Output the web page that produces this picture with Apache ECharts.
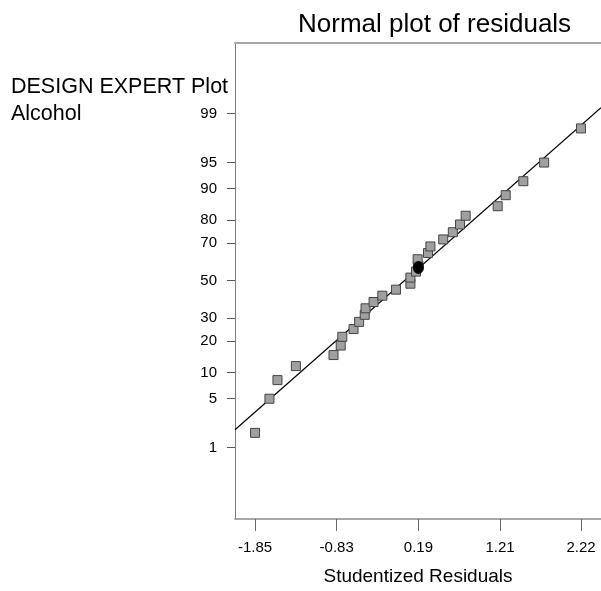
<!DOCTYPE html>
<html>
<head>
<meta charset="utf-8">
<script src="https://cdn.jsdelivr.net/npm/echarts@6/dist/echarts.min.js"></script>
<style>
html,body{margin:0;padding:0;background:#fff;}
#chart{width:601px;height:591px;}
</style>
</head>
<body>
<div id="chart"></div>
<script>
// ---- data ----
const residuals = [-1.85, -1.67, -1.57, -1.34, -0.87, -0.78, -0.76, -0.62, -0.55, -0.48,
                   -0.47, -0.37, -0.26, -0.09, 0.09, 0.09, 0.16, 0.19, 0.18, 0.31,
                   0.34, 0.50, 0.62, 0.71, 0.78, 1.18, 1.28, 1.50, 1.76, 2.22];
const probability = [1.7, 5, 8.3, 11.7, 15, 18.3, 21.7, 25, 28.3, 31.7,
                     35, 38.3, 41.7, 45, 48.3, 51.7, 55, 58.3, 61.7, 65,
                     68.3, 71.7, 75, 78.3, 81.7, 85, 88.3, 91.7, 95, 98.3];
const highlightedResidual = [0.19];
const highlightedProbability = [57.3];
const lineResiduals = [-2.10, 2.47];
const lineProbability = [1.89, 99.2];
const xTickLabels = [-1.85, -0.83, 0.19, 1.21, 2.22];
const yTickLabels = [1, 5, 10, 20, 30, 50, 70, 80, 90, 95, 99];

// ---- normal probability scale (inverse normal CDF, Acklam) ----
function probit(p) {
  const a = [-3.969683028665376e+01, 2.209460984245205e+02, -2.759285104469687e+02,
             1.383577518672690e+02, -3.066479806614716e+01, 2.506628277459239e+00];
  const b = [-5.447609879822406e+01, 1.615858368580409e+02, -1.556989798598866e+02,
             6.680131188771972e+01, -1.328068155288572e+01];
  const c = [-7.784894002430293e-03, -3.223964580411365e-01, -2.400758277161838e+00,
             -2.549732539343734e+00, 4.374664141464968e+00, 2.938163982698783e+00];
  const d = [7.784695709041462e-03, 3.224671290700398e-01, 2.445134137142996e+00,
             3.754408661907416e+00];
  const pl = 0.02425, ph = 1 - pl;
  let q, r;
  if (p < pl) {
    q = Math.sqrt(-2 * Math.log(p));
    return (((((c[0]*q+c[1])*q+c[2])*q+c[3])*q+c[4])*q+c[5]) /
           ((((d[0]*q+d[1])*q+d[2])*q+d[3])*q+1);
  } else if (p <= ph) {
    q = p - 0.5; r = q * q;
    return (((((a[0]*r+a[1])*r+a[2])*r+a[3])*r+a[4])*r+a[5])*q /
           (((((b[0]*r+b[1])*r+b[2])*r+b[3])*r+b[4])*r+1);
  } else {
    q = Math.sqrt(-2 * Math.log(1 - p));
    return -(((((c[0]*q+c[1])*q+c[2])*q+c[3])*q+c[4])*q+c[5]) /
            ((((d[0]*q+d[1])*q+d[2])*q+d[3])*q+1);
  }
}
const z = pct => probit(pct / 100);

const pointData = residuals.map((r, i) => [r, z(probability[i])]);
const circleData = highlightedResidual.map((r, i) => [r, z(highlightedProbability[i])]);
const lineData = lineResiduals.map((r, i) => [r, z(lineProbability[i])]);
const yTickZ = yTickLabels.map(z);

const FONT = '"Liberation Sans", Arial, sans-serif';
const chart = echarts.init(document.getElementById('chart'), null, {renderer: 'canvas'});
chart.setOption({
  animation: false,
  backgroundColor: '#fff',
  title: [
    {text: 'Normal plot of residuals', left: 298, top: 12, padding: 0,
     textStyle: {fontFamily: FONT, fontSize: 26, fontWeight: 'normal', color: '#000'}},
    {text: 'DESIGN EXPERT Plot', left: 11, top: 76, padding: 0,
     textStyle: {fontFamily: FONT, fontSize: 21.5, fontWeight: 'normal', color: '#000'}},
    {text: 'Alcohol', left: 11, top: 103, padding: 0,
     textStyle: {fontFamily: FONT, fontSize: 21.5, fontWeight: 'normal', color: '#000'}}
  ],
  grid: {left: 235, right: 0, top: 43, bottom: 68, containLabel: false},
  xAxis: [{
    type: 'value', min: -2.10, max: 2.47, position: 'bottom',
    name: 'Studentized Residuals', nameLocation: 'middle', nameGap: 48,
    nameTextStyle: {fontFamily: FONT, fontSize: 19, color: '#000'},
    axisLine: {show: true, onZero: false, lineStyle: {color: '#8a8a8a', width: 1.5}},
    axisTick: {show: true, length: 12, customValues: xTickLabels, lineStyle: {color: '#666'}},
    axisLabel: {customValues: xTickLabels, margin: 21, fontFamily: FONT, fontSize: 15, color: '#000',
                formatter: v => v.toFixed(2)},
    splitLine: {show: false}
  }, {
    type: 'value', position: 'top', min: -2.10, max: 2.47,
    axisLine: {show: true, onZero: false, lineStyle: {color: '#a8a8a8', width: 2}},
    axisTick: {show: false}, axisLabel: {show: false}, splitLine: {show: false}
  }],
  yAxis: {
    type: 'value', min: -3.32, max: 3.31,
    axisLine: {show: true, onZero: false, lineStyle: {color: '#7a7a7a', width: 1}},
    axisTick: {show: true, length: 8, customValues: yTickZ, lineStyle: {color: '#555', width: 1}},
    axisLabel: {customValues: yTickZ, margin: 18, fontFamily: FONT, fontSize: 15, color: '#000',
      formatter: v => {
        let best = 0;
        yTickZ.forEach((t, i) => { if (Math.abs(t - v) < Math.abs(yTickZ[best] - v)) best = i; });
        return String(yTickLabels[best]);
      }},
    splitLine: {show: false}
  },
  series: [
    {type: 'line', data: lineData, symbol: 'none', silent: true,
     lineStyle: {color: '#000', width: 1.2}, z: 2},
    {type: 'scatter', data: pointData, symbol: 'rect', symbolSize: 9,
     itemStyle: {color: '#a0a0a0', borderColor: '#444', borderWidth: 1, opacity: 1}, z: 3},
    {type: 'scatter', data: circleData, symbol: 'circle', symbolSize: [11, 13],
     itemStyle: {color: '#000', opacity: 1}, z: 4}
  ]
});
</script>
</body>
</html>
